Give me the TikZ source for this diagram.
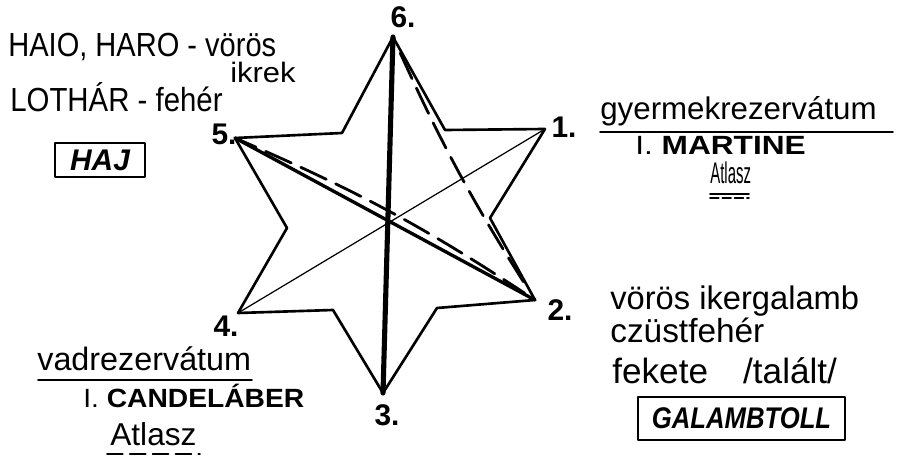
\documentclass[tikz,border=0pt]{standalone}
\usepackage{fontspec}
\setmainfont{Liberation Sans}

\newcommand{\wide}[2]{\scalebox{#1}[1]{#2}}

\tikzset{
  rim/.style={line width=1.5pt},
  trail/.style={line width=1.6pt, dash pattern=on 16pt off 6pt},
  hand/.style={anchor=base west, inner sep=0pt, font=\fontsize{17}{20}\selectfont},
  num/.style={inner sep=0pt, font=\bfseries\fontsize{17}{20}\selectfont},
  tag/.style={draw, line width=1.2pt, inner sep=0pt},
}

\begin{document}
\begin{tikzpicture}[x=0.02cm, y=-0.02cm, line cap=round, line join=round]
  \useasboundingbox (0,0) rectangle (907,456);

  % outer points of the star
  \coordinate (p6) at (393,37);
  \coordinate (p1) at (545,129);
  \coordinate (p2) at (535,300);
  \coordinate (p3) at (383,393);
  \coordinate (p4) at (238,313);
  \coordinate (p5) at (235,138);
  % inner corners
  \coordinate (q61) at (445,130);
  \coordinate (q12) at (490,218);
  \coordinate (q23) at (437,308);
  \coordinate (q34) at (333,310);
  \coordinate (q45) at (287,228);
  \coordinate (q56) at (342,133);

  \draw[rim] (p6) -- (q61) -- (p1) -- (q12) -- (p2) -- (q23) -- (p3)
    -- (q34) -- (p4) -- (q45) -- (p5) -- (q56) -- cycle;

  \draw[line width=2.9pt] (p6) -- (p3);
  \draw[line width=1.9pt] (p5) -- (p2);
  \draw[line width=0.7pt] (p4) -- (p1);
  \draw[trail, dash phase=3pt, shorten >=7pt] (p5) to[bend left=5] (p2);
  \draw[trail, dash phase=0pt, shorten <=10pt, shorten >=9pt] (p6) to[bend right=4] (p2);

  \node[num] (l6) at (403,17) {6.};
  \node[num] (l1) at (564,127) {1.};
  \node[num] (l2) at (560,310) {2.};
  \node[num] (l3) at (387,415) {3.};
  \node[num] (l4) at (226,326) {4.};
  \node[num] (l5) at (224,134) {5.};

  % top left
  \node[hand, font=\fontsize{19}{20}\selectfont] (twins) at (8,57) {\wide{0.87}{HAIO, HARO - vörös}};
  \node[hand, font=\fontsize{16}{20}\selectfont] (ikrek) at (230,83) {\wide{1.1}{ikrek}};
  \node[hand, font=\fontsize{19}{20}\selectfont] (lothar) at (10,112) {\wide{0.88}{LOTHÁR - fehér}};
  \node[tag, minimum width=1.8cm, minimum height=0.68cm,
        font=\bfseries\itshape\fontsize{17}{20}\selectfont] (haj) at (100,160) {HAJ};

  % top right
  \node[hand, font=\fontsize{17.8}{20}\selectfont] (gyer) at (600,120) {gyermekrezervátum};
  \draw[line width=1pt] (600,132) -- (893,132);
  \node[hand, font=\fontsize{15}{20}\selectfont] (martine) at (635,155) {\wide{1.2}{I. \textbf{MARTINE}}};
  \node[hand] (atlA) at (710,184) {\wide{0.5}{Atlasz}};
  \draw[line width=0.9pt] (710,194) -- (749,194);
  \draw[line width=0.9pt, dash pattern=on 5pt off 2pt] (710,198) -- (749,198);

  % bottom left
  \node[hand, font=\fontsize{18.4}{20}\selectfont] (vad) at (37,370) {vadrezervátum};
  \draw[line width=1pt] (38,380) -- (252,380);
  \node[hand, font=\fontsize{15}{20}\selectfont] (candel) at (83,407) {\wide{1.07}{I. \textbf{CANDELÁBER}}};
  \node[hand, font=\fontsize{18}{20}\selectfont] (atlB) at (110,445) {Atlasz};
  \draw[line width=1pt, dash pattern=on 9pt off 4pt] (107,454) -- (200,454);

  % bottom right
  \node[hand, font=\fontsize{18.6}{20}\selectfont] (galamb) at (610,309) {vörös ikergalamb};
  \node[hand, font=\fontsize{19}{20}\selectfont] (czust) at (610,342) {czüstfehér};
  \node[hand, font=\fontsize{20}{20}\selectfont] (fekete) at (612,383) {fekete\quad/talált/};
  \node[tag, minimum width=4.14cm, minimum height=0.86cm,
        font=\bfseries\itshape\fontsize{17}{20}\selectfont] (toll) at (741.5,418.5) {\wide{0.86}{GALAMBTOLL}};
\end{tikzpicture}
\end{document}
